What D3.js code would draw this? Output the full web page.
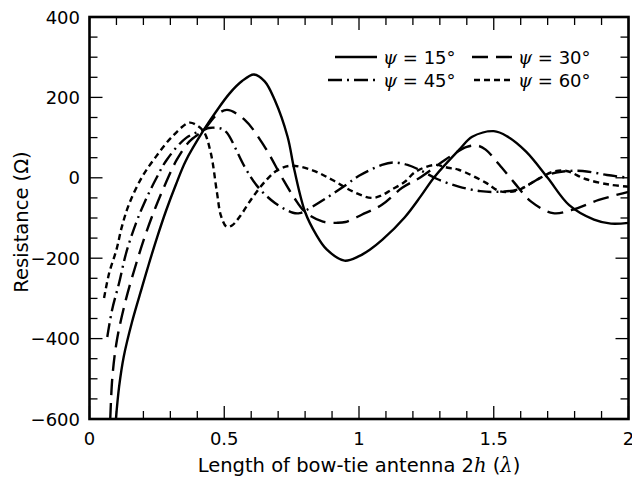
<!DOCTYPE html>
<html><head><meta charset="utf-8">
<script src="https://cdn.jsdelivr.net/npm/d3@7"></script>
<style>body{margin:0;background:#fff}</style>
</head><body>
<script>
const xTicks = [0, 0.5, 1, 1.5, 2];
const yTicks = [-600, -400, -200, 0, 200, 400];
const seriesNames = ["ψ = 15°", "ψ = 30°", "ψ = 45°", "ψ = 60°"];

const psi15 = [[0.098,-600],[0.11,-519],[0.127,-445],[0.158,-358],[0.195,-272],[0.22,-215],[0.25,-150],[0.284,-82],[0.32,-18],[0.357,42],[0.424,119],[0.47,165],[0.52,210],[0.565,240],[0.61,257],[0.65,240],[0.687,194],[0.735,102],[0.76,20],[0.80,-85],[0.84,-140],[0.88,-178],[0.946,-206],[1.0,-195],[1.04,-179],[1.087,-154],[1.17,-98],[1.23,-45],[1.28,2],[1.372,70],[1.42,102],[1.5,116],[1.55,103],[1.62,65],[1.70,0],[1.78,-68],[1.872,-104],[1.935,-114],[2.0,-112]];
const psi30 = [[0.077,-600],[0.085,-495],[0.102,-403],[0.135,-303],[0.174,-212],[0.21,-137],[0.246,-72],[0.285,-10],[0.324,45],[0.37,90],[0.424,119],[0.47,155],[0.51,169],[0.576,144],[0.65,77],[0.713,2],[0.76,-50],[0.80,-85],[0.866,-109],[0.92,-112],[0.95,-110],[1.01,-92],[1.085,-67],[1.16,-25],[1.23,2],[1.32,45],[1.4,77],[1.44,80],[1.47,70],[1.52,33],[1.576,-12],[1.64,-60],[1.72,-88],[1.79,-80],[1.89,-55],[2.0,-35]];
const psi45 = [[0.066,-396],[0.084,-328],[0.11,-261],[0.136,-187],[0.173,-112],[0.205,-60],[0.245,-5],[0.287,45],[0.36,100],[0.424,119],[0.443,124],[0.49,122],[0.51,112],[0.576,27],[0.624,-22],[0.687,-62],[0.755,-87],[0.78,-88],[0.806,-80],[0.88,-50],[0.953,-17],[1.0,5],[1.085,32],[1.13,38],[1.18,32],[1.23,18],[1.29,-3],[1.37,-22],[1.45,-33],[1.51,-35],[1.595,-28],[1.69,5],[1.75,15],[1.83,17],[1.92,7],[2.0,0]];
const psi60 = [[0.054,-299],[0.073,-237],[0.1,-179],[0.12,-122],[0.147,-65],[0.195,2],[0.246,52],[0.306,102],[0.369,137],[0.395,132],[0.424,115],[0.45,62],[0.473,-37],[0.488,-95],[0.509,-122],[0.53,-118],[0.557,-97],[0.607,-47],[0.657,-5],[0.70,20],[0.75,30],[0.83,18],[0.9,-5],[0.98,-35],[1.045,-50],[1.08,-45],[1.12,-30],[1.17,-10],[1.21,15],[1.28,32],[1.33,25],[1.37,20],[1.47,-12],[1.52,-33],[1.56,-35],[1.6,-28],[1.66,-5],[1.72,15],[1.77,17],[1.84,-3],[1.93,-17],[2.0,-22]];

const allSeries = [psi15, psi30, psi45, psi60];
const dashes = [null, "16,8", "14,5,2,5", "6,4"];

const W = 632, H = 481;
const m = {left: 89.5, right: 628.5, top: 17, bottom: 419};
const FONT = "'DejaVu Sans', Verdana, sans-serif";
const svg = d3.select("body").append("svg").attr("width", W).attr("height", H)
  .style("font-family", FONT);

const x = d3.scaleLinear().domain([0, 2]).range([m.left, m.right]);
const y = d3.scaleLinear().domain([-600, 400]).range([m.bottom, m.top]);

svg.append("clipPath").attr("id", "c").append("rect")
  .attr("x", m.left).attr("y", m.top).attr("width", m.right - m.left).attr("height", m.bottom - m.top);

// minor + major ticks, inward on all four sides
const xMinor = d3.range(0, 2.0001, 0.1);
const yMinor = d3.range(-600, 400.001, 50);
const fmt = v => (v < 0 ? "\u2212" + Math.abs(v) : String(v));
const isMajorX = v => xTicks.some(t => Math.abs(t - v) < 1e-6);
const isMajorY = v => yTicks.some(t => Math.abs(t - v) < 1e-6);

const tickG = svg.append("g").attr("stroke", "#000").attr("stroke-width", 1.3);
xMinor.forEach(v => {
  const L = isMajorX(v) ? 13 : 8;
  tickG.append("line").attr("x1", x(v)).attr("x2", x(v)).attr("y1", m.bottom).attr("y2", m.bottom - L);
  tickG.append("line").attr("x1", x(v)).attr("x2", x(v)).attr("y1", m.top).attr("y2", m.top + L);
});
yMinor.forEach(v => {
  const L = isMajorY(v) ? 13 : 8;
  tickG.append("line").attr("y1", y(v)).attr("y2", y(v)).attr("x1", m.left).attr("x2", m.left + L);
  tickG.append("line").attr("y1", y(v)).attr("y2", y(v)).attr("x1", m.right).attr("x2", m.right - L);
});

// tick labels
svg.append("g").selectAll("text").data(xTicks).join("text")
  .attr("x", d => x(d)).attr("y", 445).attr("text-anchor", "middle")
  .attr("font-size", 18).text(d => String(d));
svg.append("g").selectAll("text").data(yTicks).join("text")
  .attr("x", 80).attr("y", d => y(d) + 6.5).attr("text-anchor", "end")
  .attr("font-size", 18).text(d => fmt(d));

// curves
const line = d3.line().x(d => x(d[0])).y(d => y(d[1])).curve(d3.curveCatmullRom.alpha(0.5));
const cg = svg.append("g").attr("clip-path", "url(#c)");
allSeries.forEach((s, i) => {
  cg.append("path").attr("d", line(s)).attr("fill", "none").attr("stroke", "#000")
    .attr("stroke-width", 2.4).attr("stroke-dasharray", dashes[i]);
});

// frame
svg.append("rect").attr("x", m.left).attr("y", m.top).attr("width", m.right - m.left)
  .attr("height", m.bottom - m.top).attr("fill", "none").attr("stroke", "#000").attr("stroke-width", 2.6);

// legend
const legPos = [[335, 377, 383, 57], [472, 512, 518, 57], [328, 377, 383, 80], [474, 512, 518, 80]];
legPos.forEach((p, i) => {
  svg.append("line").attr("x1", p[0]).attr("x2", p[1]).attr("y1", p[3]).attr("y2", p[3])
    .attr("stroke", "#000").attr("stroke-width", 2.4).attr("stroke-dasharray", dashes[i]);
  const t = svg.append("text").attr("x", p[2]).attr("y", p[3] + 6.5).attr("font-size", 18);
  t.append("tspan").attr("font-style", "italic").attr("font-family", "'DejaVu Serif', serif").text(seriesNames[i].slice(0, 1));
  t.append("tspan").text(seriesNames[i].slice(1));
});

// axis titles
svg.append("text").attr("transform", `translate(28,${222}) rotate(-90)`)
  .attr("text-anchor", "middle").attr("font-size", 19.5).text("Resistance (Ω)");
const xt = svg.append("text").attr("x", 359).attr("y", 472).attr("text-anchor", "middle").attr("font-size", 19.5);
xt.append("tspan").text("Length of bow-tie antenna 2");
xt.append("tspan").attr("font-style", "italic").attr("font-family", "'DejaVu Serif', serif").text("h");
xt.append("tspan").text(" (");
xt.append("tspan").attr("font-style", "italic").attr("font-family", "'DejaVu Serif', serif").text("λ");
xt.append("tspan").text(")");
</script>
</body></html>
